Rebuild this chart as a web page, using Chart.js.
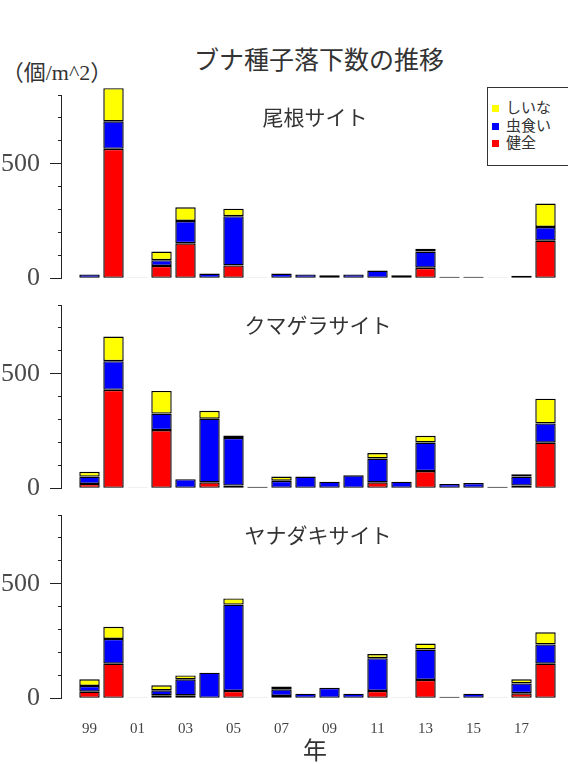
<!DOCTYPE html>
<html lang="ja">
<head>
<meta charset="UTF-8">
<title>ブナ種子落下数の推移</title>
<script src="https://cdn.jsdelivr.net/npm/chart.js"></script>
<style>
  body {
    margin: 0;
    width: 568px;
    height: 764px;
    overflow: hidden;
    position: relative;
    background: #fff;
    color: #333;
    font-family: "Liberation Serif", "Noto Sans CJK JP", serif;
  }
  canvas { position: absolute; left: 0; }
  .txt {
    position: absolute;
    line-height: 1;
    white-space: nowrap;
    transform: translate(-50%, -50%);
  }
  .cjk { font-family: "Noto Sans CJK JP", sans-serif; }
  #legend {
    position: absolute;
    left: 487px;
    top: 87px;
    width: 110px;
    height: 79px;
    border: 1px solid #333;
    box-sizing: border-box;
    background: #fff;
    font-family: "Noto Sans CJK JP", sans-serif;
    font-size: 15px;
    color: #333;
  }
  #legend div { position: absolute; left: 4px; height: 17px; line-height: 17px; }
  #legend span { display: inline-block; width: 7px; height: 7px; margin-right: 7px; vertical-align: 1px; }
</style>
</head>
<body>
  <div class="txt cjk" style="left:319px; top:58px; font-size:25px;">ブナ種子落下数の推移</div>
  <div class="txt" style="left:57px; top:73px; font-size:22px;">（個/m^2）</div>

  <canvas id="oneChart" width="568" height="220" style="top:80px"></canvas>
  <canvas id="kumaChart" width="568" height="220" style="top:290px"></canvas>
  <canvas id="yanaChart" width="568" height="264" style="top:500px"></canvas>

  <div class="txt cjk" style="left:315px; top:116px; font-size:21px;">尾根サイト</div>
  <div class="txt cjk" style="left:318px; top:324px; font-size:21px;">クマゲラサイト</div>
  <div class="txt cjk" style="left:318px; top:534px; font-size:21px;">ヤナダキサイト</div>
  <div class="txt cjk" style="left:315px; top:749px; font-size:24px;">年</div>

  <div id="legend"></div>

<script>
const years = [1999, 2000, 2001, 2002, 2003, 2004, 2005, 2006, 2007, 2008,
               2009, 2010, 2011, 2012, 2013, 2014, 2015, 2016, 2017, 2018];
const labelYears = [1999, 2001, 2003, 2005, 2007, 2009, 2011, 2013, 2015, 2017];
// stack order bottom -> top
const seriesNames = ['健全', '虫食い', 'しいな'];
const seriesColors = ['#ff0000', '#0000ff', '#ffff00'];

// 尾根サイト
const oneRed    = [0, 565, 0, 54, 153, 0, 56, 0, 0, 0, 0, 0, 0, 0, 46, 0, 0, 0, 0, 164];
const oneBlue   = [17, 120, 3, 25, 97, 21, 215, 3, 21, 17, 13, 17, 34, 13, 71, 7, 7, 3, 11, 60];
const oneYellow = [0, 145, 0, 38, 60, 0, 33, 0, 0, 0, 0, 0, 0, 0, 12, 0, 0, 0, 0, 102];

// クマゲラサイト
const kumaRed    = [19, 430, 0, 254, 0, 26, 12, 0, 0, 0, 0, 0, 26, 0, 75, 0, 0, 0, 12, 199];
const kumaBlue   = [32, 125, 3, 72, 40, 278, 208, 7, 33, 51, 29, 57, 104, 29, 125, 19, 23, 7, 39, 84];
const kumaYellow = [21, 107, 0, 99, 0, 34, 10, 0, 18, 0, 0, 0, 24, 0, 29, 0, 0, 0, 10, 108];

// ヤナダキサイト
const yanaRed    = [29, 151, 0, 13, 13, 0, 32, 0, 10, 0, 0, 0, 32, 0, 80, 0, 0, 0, 22, 151];
const yanaBlue   = [25, 108, 3, 22, 70, 112, 377, 3, 29, 20, 46, 20, 143, 3, 133, 7, 20, 3, 43, 84];
const yanaYellow = [29, 53, 0, 22, 17, 0, 27, 0, 12, 0, 0, 0, 18, 0, 26, 0, 0, 0, 18, 53];

function makePanel(id, values, showYears) {
    return new Chart(document.getElementById(id), {
        type: 'bar',
        data: {
            datasets: values.map((v, i) => ({
                label: seriesNames[i],
                data: years.map((yr, j) => ({ x: yr, y: v[j] })),
                backgroundColor: seriesColors[i],
                borderColor: '#000',
                borderWidth: 1.4,
                borderSkipped: false,
                categoryPercentage: 1,
                barPercentage: 0.85,
                clip: false
            }))
        },
        options: {
            responsive: false,
            animation: false,
            // x axis height in panel 3 = label 18 + 2 * padding 22
            layout: { padding: { left: 0, right: 6, top: 15, bottom: showYears ? 3.7 : 21.7 } },
            plugins: { legend: { display: false }, tooltip: { enabled: false } },
            scales: {
                x: {
                    type: 'linear',
                    stacked: true,
                    offset: false,
                    min: 1997.8125,
                    max: 2018.6875,
                    display: showYears,
                    grid: { display: false, drawTicks: false, offset: false },
                    border: { display: false },
                    afterBuildTicks: s => { s.ticks = labelYears.map(v => ({ value: v })); },
                    ticks: {
                        autoSkip: false,
                        maxRotation: 0,
                        padding: 22,
                        color: '#444',
                        font: { family: 'Liberation Serif', size: 15 },
                        callback: v => String(v).slice(2)
                    }
                },
                y: {
                    stacked: true,
                    min: 0,
                    max: 800,
                    afterFit: s => { s.width = 61; },
                    border: { color: '#222', width: 1 },
                    grid: {
                        drawOnChartArea: false,
                        tickLength: 21,
                        tickColor: '#222',
                        // tick marks only drawn next to the axis: 11px major, 3px minor
                        tickBorderDash: c => (c.tick && c.tick.value % 500) ? [0, 18, 4, 0] : [0, 10, 12, 0]
                    },
                    ticks: {
                        autoSkip: false,
                        stepSize: 100,
                        padding: 0,
                        color: '#4a4a4a',
                        font: { family: 'Liberation Serif', size: 26, lineHeight: 1 },
                        callback: v => (v % 500 ? '' : v)
                    }
                }
            }
        }
    });
}

makePanel('oneChart', [oneRed, oneBlue, oneYellow], false);
makePanel('kumaChart', [kumaRed, kumaBlue, kumaYellow], false);
makePanel('yanaChart', [yanaRed, yanaBlue, yanaYellow], true);

// legend, top series first
const legend = document.getElementById('legend');
[2, 1, 0].forEach((i, row) => {
    const item = document.createElement('div');
    item.style.top = (10 + row * 17.5) + 'px';
    item.innerHTML = '<span style="background:' + seriesColors[i] + '"></span>' + seriesNames[i];
    legend.appendChild(item);
});
</script>
</body>
</html>
